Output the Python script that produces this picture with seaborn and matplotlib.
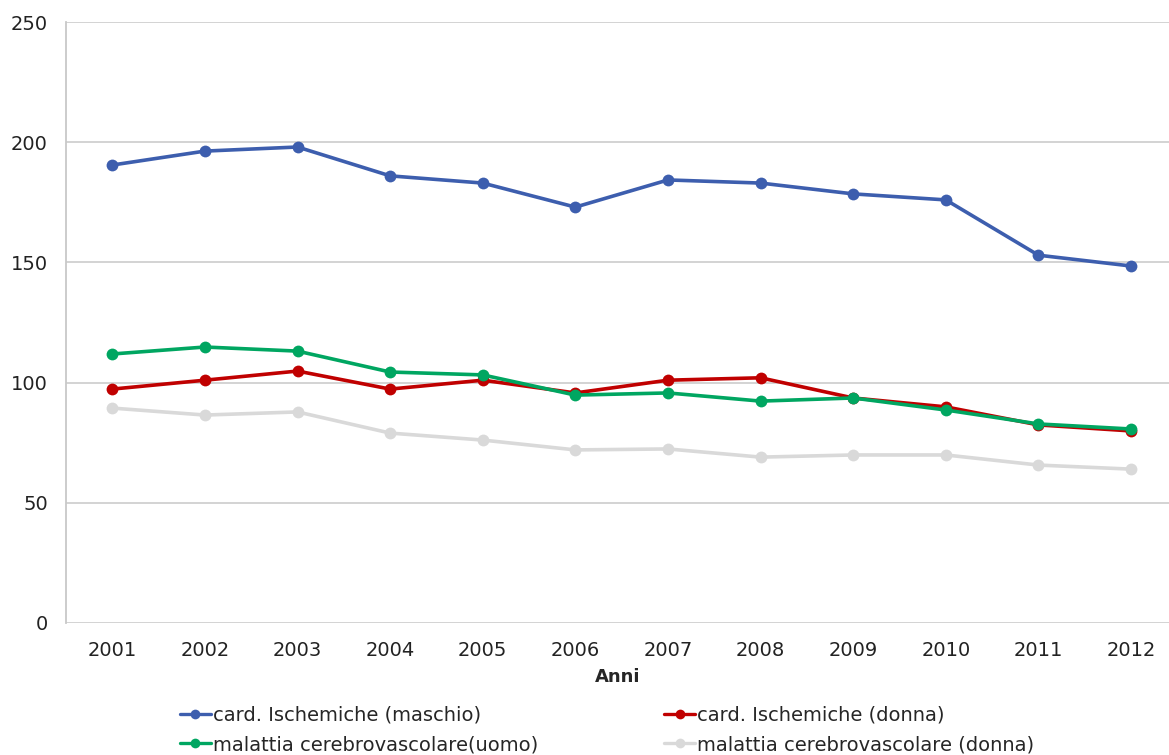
"""
tassi di mortalita per cardiopatie ischemiche e malattie cerebrovascolari, 2001-2012
"""

import numpy as np
import pandas as pd
import matplotlib
matplotlib.use("Agg")
import matplotlib.pyplot as plt
import seaborn as sns

sns.set_style("white")
plt.rcParams["font.family"] = ["DejaVu Sans"]

anni = ["2001", "2002", "2003", "2004", "2005", "2006",
        "2007", "2008", "2009", "2010", "2011", "2012"]

series_labels = ["card. Ischemiche (maschio)", "card. Ischemiche (donna)",
                 "malattia cerebrovascolare(uomo)", "malattia cerebrovascolare (donna)"]

card_maschio = [190.5, 196.3, 198.0, 186.0, 183.0, 173.0, 184.3, 183.0, 178.5, 176.0, 153.0, 148.5]
card_donna = [97.3, 101.0, 104.8, 97.3, 101.0, 95.7, 101.0, 102.0, 93.6, 89.9, 82.4, 79.9]
cerebro_uomo = [111.9, 114.8, 113.1, 104.4, 103.2, 94.8, 95.7, 92.3, 93.6, 88.6, 82.8, 80.7]
cerebro_donna = [89.4, 86.5, 87.8, 79.0, 76.1, 72.0, 72.4, 69.0, 69.9, 69.9, 65.7, 64.0]

colors = ["#3D5EAE", "#C00000", "#00A661", "#D9D9D9"]

rows = []
for label, vals in zip(series_labels, [card_maschio, card_donna, cerebro_uomo, cerebro_donna]):
    for anno, v in zip(anni, vals):
        rows.append({"Anni": anno, "valore": v, "serie": label})
df = pd.DataFrame(rows)
df["pos"] = df["Anni"].map({a: i for i, a in enumerate(anni)})

fig = plt.figure(figsize=(11.69, 7.55), dpi=100)
ax = fig.add_axes([66 / 1169, 1 - 623 / 755, 1 - 66 / 1169, (623 - 22) / 755])

pal = dict(zip(series_labels, colors))
sns.lineplot(data=df, x="pos", y="valore", hue="serie", hue_order=series_labels,
             palette=pal, marker="o", markersize=8.5, markeredgewidth=0,
             linewidth=2.6, ax=ax, legend=False)

ax.set_xlim(-0.5, 11.41)
ax.set_ylim(0, 250)
ax.set_yticks([0, 50, 100, 150, 200, 250])
ax.set_xticks(range(len(anni)))
ax.set_xticklabels(anni)
ax.yaxis.grid(True, color="#D0D0D0", linewidth=1.3)
ax.set_axisbelow(True)
for side in ["top", "right", "bottom"]:
    ax.spines[side].set_visible(False)
ax.spines["left"].set_color("#C8C8C8")
ax.spines["left"].set_linewidth(1.3)
ax.tick_params(axis="both", length=0, labelsize=14, colors="#222222")
ax.tick_params(axis="x", pad=13)
ax.tick_params(axis="y", pad=13)
ax.set_xlabel("Anni", fontsize=13, fontweight="bold", labelpad=6)
ax.set_ylabel("")

# legend filled column-wise, so order handles to read row by row like the original
leg_order = [0, 2, 1, 3]
handles = [plt.Line2D([], [], color=colors[i], marker="o", markersize=7, linewidth=2.4,
                      markeredgewidth=0) for i in leg_order]
labels = [series_labels[i] for i in leg_order]
fig.legend(handles, labels, loc="lower left", bbox_to_anchor=(162 / 1169, -0.022),
           ncol=2, frameon=False, handlelength=1.6, handletextpad=0.1,
           columnspacing=6.5, labelspacing=0.55,
           prop={"family": ["DejaVu Sans"], "size": 14})

plt.savefig("out.png", dpi=100)
